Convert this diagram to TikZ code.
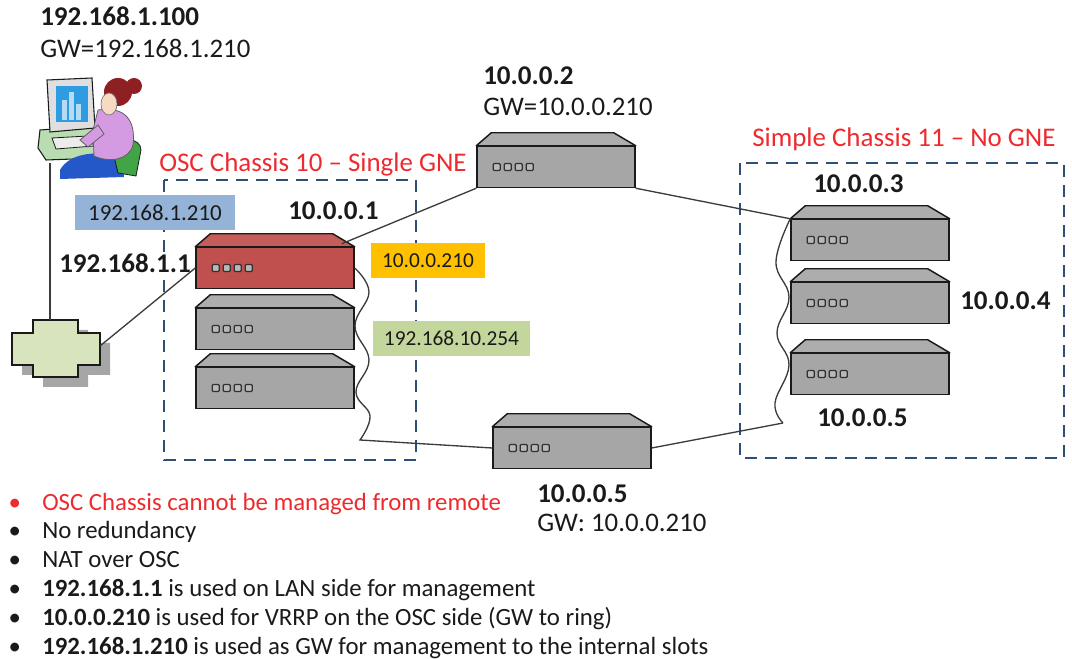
\documentclass[tikz,border=0pt]{standalone}
\usepackage{fontspec}
\setmainfont{Carlito}
\usetikzlibrary{calc}
\definecolor{osc}{HTML}{EE2A2E}
\definecolor{frame}{HTML}{2E4E78}
\definecolor{box}{HTML}{A6A6A6}
\definecolor{boxred}{HTML}{C0504D}
\definecolor{lanblue}{HTML}{95B3D7}
\definecolor{vrrp}{HTML}{FFC000}
\definecolor{osclan}{HTML}{C3D69B}
\definecolor{lan}{HTML}{D7E4BD}
\definecolor{ink}{HTML}{1A1A1A}
\definecolor{scr}{HTML}{2F9BE0}
\definecolor{desk}{HTML}{B9DDB0}
\definecolor{shirt}{HTML}{D49BE2}
\definecolor{skin}{HTML}{F7D9C4}
\definecolor{hair}{HTML}{8E1F22}
\definecolor{chair}{HTML}{41A447}
\definecolor{skirt}{HTML}{2457C8}
\tikzstyle{chassis}=[shape=rectangle, minimum width=118.5pt, minimum height=30.75pt, draw=ink, line width=1.1pt, inner sep=0]
\tikzstyle{port}=[draw=ink!90, fill=box!80, line width=0.9pt, rounded corners=0.8pt]
\tikzstyle{ip}=[font=\fontsize{20.3}{24}\selectfont\bfseries, text=ink, anchor=base west, inner sep=0]
\tikzstyle{gw}=[font=\fontsize{20.1}{24}\selectfont, text=ink, anchor=base west, inner sep=0]
\tikzstyle{tag}=[font=\fontsize{16}{19}\selectfont, text=ink, inner sep=0, minimum height=26.25pt]
\tikzstyle{title}=[font=\fontsize{20.2}{24}\selectfont, text=osc, anchor=base west, inner sep=0]
\tikzstyle{note}=[font=\fontsize{18.6}{22}\selectfont, anchor=base west, inner sep=0]
\tikzstyle{wire}=[draw=ink!85, line width=1pt]
\tikzstyle{group}=[draw=frame, line width=2pt, dash pattern=on 9pt off 6pt]

% one shelf: body node, bevelled top and four ports
\newcommand{\chassis}[3]{%
  \node[chassis, fill=#3] (#1) at (#2) {};
  \draw[fill=#3!92!white, draw=ink, line width=1.1pt, line join=round]
    (#1.north west) -- ++(15,-13) -- ($(#1.north east)+(-22,-13)$) -- (#1.north east) -- cycle;
  \foreach \i in {0,...,3}
    \draw[port] ($(#1.west)+(17+11*\i,-3.5)$) rectangle ++(7,7);
}

\begin{document}
\begin{tikzpicture}[x=0.75pt, y=-0.75pt]
\useasboundingbox (0,0) rectangle (1072,659);

% workstation user
\draw[fill=desk, draw=ink, line width=0.8pt] (40,130) -- (92,126) -- (104,140) -- (100,158) -- (46,160) -- (38,148) -- cycle;
\draw[fill=gray!25, draw=ink, line width=0.8pt] (47,80) -- (92,78) -- (95,128) -- (50,132) -- cycle;
\fill[scr] (56,86) rectangle (88,122);
\foreach \x/\h in {62/20, 69/28, 76/16}
	\fill[scr!35] (\x,120) rectangle ++(5,-\h);
\draw[fill=gray!15, draw=ink, line width=0.6pt] (52,138) -- (88,136) -- (94,146) -- (56,149) -- cycle;
\fill[skirt] (60,170) .. controls (70,152) and (100,150) .. (122,158) -- (124,177) -- (60,179) -- cycle;
\draw[fill=chair, draw=ink, line width=0.6pt] (112,148) .. controls (120,135) and (141,138) .. (141,150) -- (136,176) -- (118,173) -- cycle;
\draw[fill=shirt, draw=ink!70, line width=0.6pt] (98,110) .. controls (125,106) and (136,120) .. (133,145) .. controls (129,160) and (110,163) .. (94,156) -- (93,130) -- cycle;
\draw[fill=shirt, draw=ink!70, line width=0.6pt] (98,125) -- (80,140) -- (88,147) -- (104,134) -- cycle;
\fill[hair] (118,92) circle (14);
\fill[hair] (134,86) circle (8);
\draw[fill=skin, draw=ink!60, line width=0.5pt] (109,104) ellipse (8 and 11);
\coordinate (pc) at (50,163);
\node[ip] (pcip) at (40,26) {192.168.1.100};
\node[gw] (pcgw) at (40,58) {GW=192.168.1.210};

% LAN cloud
\fill[gray!70] ($(12,333)+(10,10)$) -- ++(21,0) -- ++(0,-13) -- ++(45,0) -- ++(0,13) -- ++(22,0) -- ++(0,32) -- ++(-22,0) -- ++(0,12) -- ++(-45,0) -- ++(0,-12) -- ++(-21,0) -- cycle;
\draw[fill=lan, draw=ink, line width=1pt] (12,333) -- ++(21,0) -- ++(0,-13) -- ++(45,0) -- ++(0,13) -- ++(22,0) -- ++(0,32) -- ++(-22,0) -- ++(0,12) -- ++(-45,0) -- ++(0,-12) -- ++(-21,0) -- cycle;
\coordinate (lantop) at (50,320);
\coordinate (lan) at (100,346);

% OSC chassis 10
\draw[group] (164,180) rectangle (416,460);
\node[title] (osctitle) at (159,172) {OSC Chassis 10 -- Single GNE};
\chassis{c1}{275,268}{boxred}
\chassis{c2}{275,329}{box}
\chassis{c3}{275,388}{box}
\node[ip] (c1ip) at (288,220) {10.0.0.1};
\node[ip] (c1lan) at (59,273) {192.168.1.1};
\node[tag, fill=lanblue, minimum width=120pt, font=\fontsize{17.2}{20}\selectfont] (gwlan) at (155,213) {192.168.1.210};
\node[tag, fill=vrrp, minimum width=85.5pt] (vip) at (428,260.5) {10.0.0.210};
\node[tag, fill=osclan, minimum width=117.75pt] (inner) at (451.5,338.5) {192.168.10.254};

% ring nodes
\chassis{n2}{556,167}{box}
\node[ip] (n2ip) at (483,85) {10.0.0.2};
\node[gw] (n2gw) at (483,116) {GW=10.0.0.210};
\chassis{nb}{572,448}{box}
\node[ip] (nbip) at (537,503) {10.0.0.5};
\node[gw] (nbgw) at (537,532) {GW: 10.0.0.210};

% simple chassis 11
\draw[group] (740,163) rectangle (1064,458);
\node[title] (simpletitle) at (752,147) {Simple Chassis 11 -- No GNE};
\chassis{n3}{870,240}{box}
\chassis{n4}{870,303}{box}
\chassis{n5}{870,374}{box}
\node[ip] (n3ip) at (813,193) {10.0.0.3};
\node[ip] (n4ip) at (960,310) {10.0.0.4};
\node[ip] (n5ip) at (817,427) {10.0.0.5};

% cabling
\draw[wire] (pc) -- (lantop);
\draw[wire] (lan) -- (c1.west);
\draw[wire] ($(c1.north east)+(-13,-3)$) -- (n2.south west);
\draw[wire] (n2.south east) -- (n3.north west);
\draw[wire] plot[smooth, tension=0.7] coordinates {(c1.east) (369,292) (355,326) (369,360) (356,392) (370,416) (360,440)} -- (nb.west);
\draw[wire] (nb.east) -- (783,423);
\draw[wire] plot[smooth, tension=0.7] coordinates {(783,423) (775,403) (789,365) (777,333) (789,297) (776,262) (n3.north west)};

% remarks
\foreach \col/\txt [count=\k] in {osc/{OSC Chassis cannot be managed from remote}, ink/{No redundancy}, ink/{NAT over OSC}, ink/{\textbf{192.168.1.1} is used on LAN side for management}, ink/{\textbf{10.0.0.210} is used for VRRP on the OSC side (GW to ring)}, ink/{\textbf{192.168.1.210} is used as GW for management to the internal slots}}
	\node[note, text=\col] (note\k) at (42,481.2+28.8*\k) {\llap{\textbullet\hspace{16pt}}\txt};
\end{tikzpicture}
\end{document}
